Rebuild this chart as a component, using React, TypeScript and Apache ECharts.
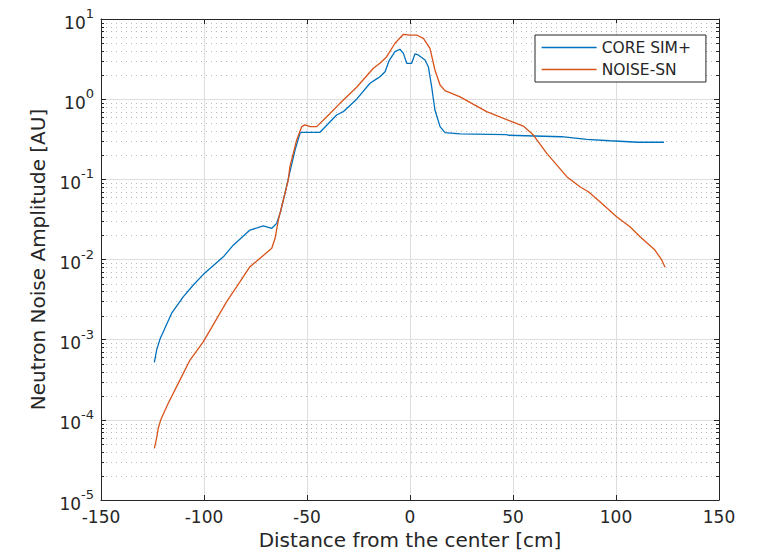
import React, { useEffect, useRef } from "react";
import * as echarts from "echarts";

const seriesNames = ["CORE SIM+", "NOISE-SN"];

const coreX = [-124.1, -123.0, -121.4, -115.7, -110.0, -105.2, -100.3, -90.6, -85.8, -77.7, -71.2, -67.1, -64.7, -62.8, -60.7, -58.7, -55.8, -53.4, -52.6, -43.7, -35.6, -32.4, -25.9, -19.4, -16.2, -14.6, -12.1, -10.2, -7.3, -4.9, -3.2, -1.6, 0.8, 2.4, 4.0, 7.3, 8.9, 10.5, 12.1, 14.6, 17.0, 24.3, 46.9, 47.5, 73.6, 85.8, 97.1, 110.8, 123.3];
const coreY = [5.2e-4, 7.4e-4, 1.01e-3, 2.14e-3, 3.44e-3, 4.81e-3, 6.53e-3, 0.0108, 0.0151, 0.0233, 0.0262, 0.0245, 0.0282, 0.0398, 0.0668, 0.112, 0.232, 0.375, 0.386, 0.386, 0.635, 0.698, 1.0, 1.58, 1.79, 1.9, 2.2, 3.0, 3.91, 4.19, 3.73, 2.8, 2.8, 3.66, 3.56, 3.08, 2.54, 1.43, 0.733, 0.454, 0.382, 0.368, 0.362, 0.355, 0.34, 0.316, 0.303, 0.29, 0.29];

const noiseX = [-124.1, -123.0, -122.2, -121.0, -117.3, -112.5, -106.8, -100.3, -94.7, -89.0, -84.1, -77.7, -72.8, -67.1, -65.5, -63.9, -61.5, -59.1, -58.3, -55.0, -52.6, -51.0, -48.5, -45.3, -40.4, -34.0, -25.9, -17.8, -14.6, -11.3, -7.3, -3.2, 0.0, 3.2, 6.5, 9.7, 12.1, 14.6, 17.0, 24.3, 37.2, 48.5, 55.0, 59.9, 66.4, 76.1, 82.5, 86.6, 92.2, 100.3, 106.8, 111.7, 118.9, 122.2, 123.8];
const noiseY = [4.4e-5, 5.9e-5, 7.85e-5, 1.0e-4, 1.62e-4, 2.85e-4, 5.57e-4, 9.44e-4, 1.67e-3, 2.98e-3, 4.58e-3, 8.13e-3, 0.01035, 0.0138, 0.0184, 0.0311, 0.0552, 0.098, 0.144, 0.31, 0.454, 0.477, 0.454, 0.454, 0.604, 0.887, 1.41, 2.43, 2.8, 3.39, 4.98, 6.44, 6.31, 6.31, 5.74, 4.31, 2.31, 1.5, 1.28, 1.07, 0.698, 0.535, 0.462, 0.357, 0.211, 0.108, 0.0809, 0.0701, 0.0526, 0.0342, 0.0256, 0.0192, 0.0131, 0.00986, 0.008];

const xMin = -150;
const xMax = 150;
const xStep = 50;
const yMin = 1e-5;
const yMax = 10;
const decades = [-5, -4, -3, -2, -1, 0];
const minorMultipliers = [2, 3, 4, 5, 6, 7, 8, 9];

const FONT = "DejaVu Sans";
const TXT = "#262626";

export default function App() {
  const ref = useRef<HTMLDivElement>(null);

  useEffect(() => {
    if (!ref.current) return;
    const chart = echarts.init(ref.current, undefined, { renderer: "svg" });

    const minorVals: number[] = [];
    decades.forEach((e) => minorMultipliers.forEach((m) => minorVals.push(m * Math.pow(10, e))));

    const coreData = coreX.map((x, i) => [x, coreY[i]]);
    const noiseData = noiseX.map((x, i) => [x, noiseY[i]]);

    const ylabelFormatter = (v: number) => {
      const e = Math.round(Math.log10(v));
      return `{b|10}{s|${e}}`;
    };

    chart.setOption({
      animation: false,
      backgroundColor: "#ffffff",
      grid: { left: 101, top: 19, width: 618, height: 481, containLabel: false },
      legend: {
        data: seriesNames,
        orient: "vertical",
        left: 535,
        top: 35,
        padding: [3, 15, 3, 6],
        itemWidth: 55,
        itemHeight: 14,
        itemGap: 3,
        backgroundColor: "#ffffff",
        borderColor: TXT,
        borderWidth: 1,
        borderRadius: 0,
        itemStyle: { opacity: 0 },
        lineStyle: { width: 1.3 },
        textStyle: { fontSize: 15.5, fontFamily: FONT, color: TXT, lineHeight: 19 },
      },
      xAxis: [
        {
          type: "value",
          min: xMin,
          max: xMax,
          interval: xStep,
          name: "Distance from the center [cm]",
          nameLocation: "middle",
          nameGap: 28,
          nameTextStyle: { fontSize: 20, fontFamily: FONT, color: TXT },
          axisLine: { show: true, onZero: false, lineStyle: { color: TXT, width: 1 } },
          axisTick: { show: true, inside: true, length: 5, lineStyle: { color: TXT } },
          axisLabel: { fontSize: 17, fontFamily: FONT, color: TXT, margin: 8 },
          splitLine: { show: true, lineStyle: { color: "#dedede", width: 1 } },
        },
        {
          type: "value",
          position: "top",
          min: xMin,
          max: xMax,
          interval: xStep,
          axisLine: { show: true, onZero: false, lineStyle: { color: TXT, width: 1 } },
          axisTick: { show: true, inside: true, length: 5, lineStyle: { color: TXT } },
          axisLabel: { show: false },
          splitLine: { show: false },
        },
      ],
      yAxis: [
        {
          type: "log",
          logBase: 10,
          min: yMin,
          max: yMax,
          interval: 1,
          name: "Neutron Noise Amplitude [AU]",
          nameLocation: "middle",
          nameGap: 53,
          nameRotate: 90,
          nameTextStyle: { fontSize: 20, fontFamily: FONT, color: TXT },
          axisLine: { show: true, onZero: false, lineStyle: { color: TXT, width: 1 } },
          axisTick: { show: true, inside: true, length: 5, lineStyle: { color: TXT } },
          axisLabel: {
            margin: 7,
            formatter: ylabelFormatter,
            rich: {
              b: { fontSize: 17, fontFamily: FONT, color: TXT, lineHeight: 24, verticalAlign: "bottom" },
              s: { fontSize: 13, fontFamily: FONT, color: TXT, lineHeight: 13, verticalAlign: "top" },
            },
          },
          splitLine: { show: true, lineStyle: { color: "#dedede", width: 1 } },
        },
        {
          type: "log",
          logBase: 10,
          min: yMin,
          max: yMax,
          interval: 1,
          position: "right",
          axisLine: { show: true, onZero: false, lineStyle: { color: TXT, width: 1 } },
          axisTick: { show: true, inside: true, length: 5, lineStyle: { color: TXT } },
          axisLabel: { show: false },
          splitLine: { show: false },
        },
      ],
      series: [
        {
          type: "custom",
          name: "minor",
          xAxisIndex: 0,
          yAxisIndex: 0,
          silent: true,
          z: 1,
          data: minorVals.map((v) => [0, v]),
          encode: { x: 0, y: 1 },
          renderItem: (params: any, api: any) => {
            const cs = params.coordSys;
            const y = Math.round(api.coord([0, api.value(1)])[1]) + 0.5;
            return {
              type: "group",
              children: [
                {
                  type: "line",
                  shape: { x1: cs.x, y1: y, x2: cs.x + cs.width, y2: y },
                  style: { stroke: "#b8b8b8", lineWidth: 1, lineDash: [1, 4] },
                },
                {
                  type: "line",
                  shape: { x1: cs.x, y1: y, x2: cs.x + 3, y2: y },
                  style: { stroke: TXT, lineWidth: 1 },
                },
                {
                  type: "line",
                  shape: { x1: cs.x + cs.width - 3, y1: y, x2: cs.x + cs.width, y2: y },
                  style: { stroke: TXT, lineWidth: 1 },
                },
              ],
            };
          },
        },
        {
          type: "line",
          name: seriesNames[0],
          data: coreData,
          symbol: "none",
          showSymbol: false,
          z: 3,
          lineStyle: { color: "#0072BD", width: 1.3 },
          itemStyle: { color: "#0072BD" },
        },
        {
          type: "line",
          name: seriesNames[1],
          data: noiseData,
          symbol: "none",
          showSymbol: false,
          z: 4,
          lineStyle: { color: "#D95319", width: 1.3 },
          itemStyle: { color: "#D95319" },
        },
      ],
    });

    return () => chart.dispose();
  }, []);

  return (
    <div
      ref={ref}
      style={{ position: "absolute", left: 0, top: 0, width: 760, height: 557, background: "#fff" }}
    />
  );
}
